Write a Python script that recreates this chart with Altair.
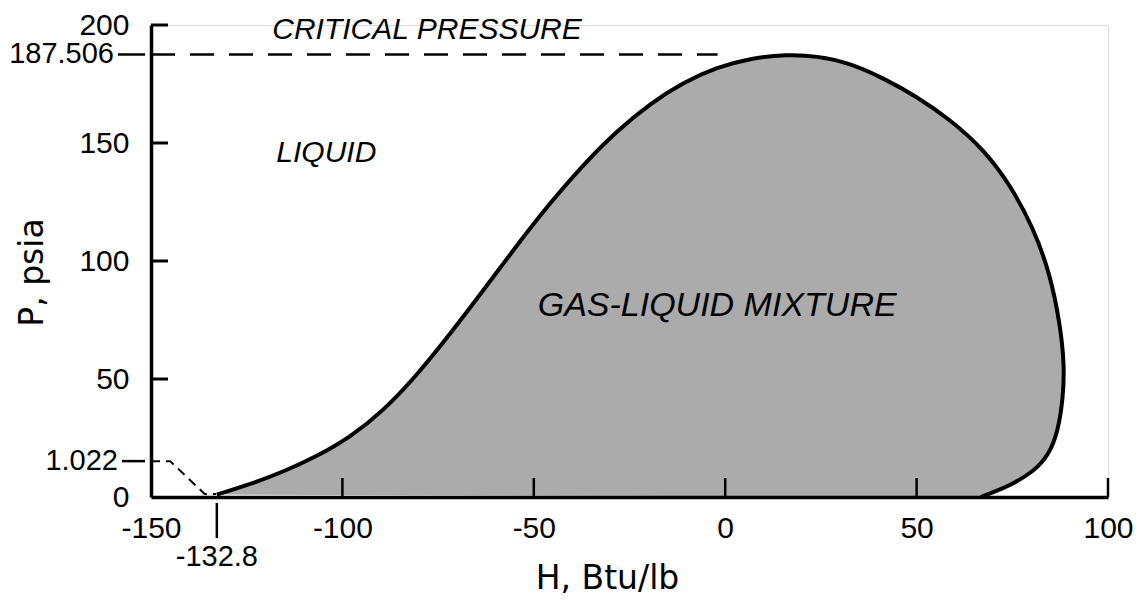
import altair as alt
import pandas as pd

# Phase envelope outline, in path order: left (bubble) branch up to the critical point,
# then right (dew) branch back down to the axis.
H_curve = [-132.8, -124.1, -115.4, -106.7, -98.0, -89.3, -80.6, -71.9, -63.2, -54.5, -45.8,
           -37.1, -28.4, -19.7, -11.0, -2.3, 6.4, 16.1,
           23.9, 32.6, 41.3, 50.0, 58.7, 67.4, 74.4, 80.5, 84.9, 87.5, 88.6, 88.3, 86.9,
           84.6, 80.5, 74.5, 70.0, 66.8]
P_curve = [1.022, 5.4, 10.7, 17.2, 25.3, 36.5, 51.5, 69.0, 87.5, 106.5, 124.5,
           140.8, 155.0, 166.6, 175.6, 182.0, 185.9, 187.506,
           186.9, 183.9, 177.5, 169.7, 160.0, 147.5, 132.4, 114.1, 94.4, 73.1, 56.3, 42.2, 27.5,
           18.0, 10.6, 5.0, 2.0, 0.0]

x_ticks = [-150, -100, -50, 0, 50, 100]
y_ticks = [0, 50, 100, 150, 200]
inner_x_ticks = [-100, -50, 0, 50, 100]
inner_y_ticks = [50, 100, 150, 200]

critical_P = 187.506
critical_H_range = [-150, -2]
triple_H = -132.8
triple_P_label = "1.022"
leader_H = [-150, -145, -136, -133]
leader_P = [15.2, 15.2, 1.3, 1.3]
label_1022_P = 15.2

region_labels = ["CRITICAL PRESSURE", "LIQUID", "GAS-LIQUID MIXTURE"]
region_H = [-77.9, -104.2, -2.1]
region_P = [197.7, 145.7, 80.8]
region_size = [30, 30, 34]

NUMF = "Liberation Sans"

x_enc = alt.X(
    "H:Q",
    scale=alt.Scale(domain=[-150, 100], nice=False, zero=False),
    axis=alt.Axis(
        values=x_ticks, labelExpr="'' + datum.value", ticks=False, tickSize=0, grid=False,
        domainColor="black", domainWidth=3.5, labelFont=NUMF, labelFontSize=30,
        labelColor="black", labelPadding=16, labelFlush=False, labelOverlap=False,
        title="H,  Btu/lb", titleFont="DejaVu Sans", titleFontSize=33, titleFontWeight="normal",
        titleColor="black", titleX=456, titleY=81, titleBaseline="middle", titleAlign="center",
        zindex=1,
    ),
)
y_enc = alt.Y(
    "P:Q",
    scale=alt.Scale(domain=[0, 200], nice=False, zero=False),
    axis=alt.Axis(
        values=y_ticks, ticks=False, tickSize=0, grid=False,
        domainColor="black", domainWidth=3.5, labelFont=NUMF, labelFontSize=30,
        labelColor="black", labelPadding=22, labelFlush=False, labelOverlap=False,
        labelBaseline="middle",
        title="P,  psia", titleFont="DejaVu Sans", titleFontSize=33, titleFontWeight="normal",
        titleColor="black", titleX=-119, titleY=247, titleAngle=270, titleBaseline="middle",
        titleAlign="center", zindex=1,
    ),
)

env_df = pd.DataFrame({"H": H_curve, "P": P_curve, "idx": list(range(len(H_curve)))})
envelope = alt.Chart(env_df).mark_line(
    fill="#ababab", stroke="black", strokeWidth=4, interpolate="basis"
).encode(x=x_enc, y=y_enc, order=alt.Order("idx:Q"))

crit_df = pd.DataFrame({"H": [critical_H_range[0]], "H2": [critical_H_range[1]], "P": [critical_P]})
crit_line = alt.Chart(crit_df).mark_rule(
    color="black", strokeWidth=2.5, strokeDash=[24, 15]
).encode(x=x_enc, x2="H2:Q", y=y_enc)

crit_leader = alt.Chart(crit_df).mark_rule(color="black", strokeWidth=2.5).encode(
    x=alt.value(-33), x2=alt.value(-6), y=y_enc)
crit_label = alt.Chart(pd.DataFrame({"P": [critical_P], "t": ["187.506"]})).mark_text(
    align="right", baseline="middle", font=NUMF, fontSize=29, color="black"
).encode(x=alt.value(-37), y=y_enc, text="t:N")

lead_df = pd.DataFrame({"H": leader_H, "P": leader_P, "idx": list(range(len(leader_H)))})
leader = alt.Chart(lead_df).mark_line(color="black", strokeWidth=2, strokeDash=[9, 6]).encode(
    x=x_enc, y=y_enc, order=alt.Order("idx:Q"))
lab1022_df = pd.DataFrame({"P": [label_1022_P], "t": [triple_P_label]})
leader_out = alt.Chart(lab1022_df).mark_rule(color="black", strokeWidth=2.5).encode(
    x=alt.value(-29), x2=alt.value(-6), y=y_enc)
label_1022 = alt.Chart(lab1022_df).mark_text(
    align="right", baseline="middle", font=NUMF, fontSize=29, color="black"
).encode(x=alt.value(-33), y=y_enc, text="t:N")

tri_df = pd.DataFrame({"H": [triple_H], "t": ["-132.8"]})
tri_tick = alt.Chart(tri_df).mark_rule(color="black", strokeWidth=2.5).encode(
    x=x_enc, y=alt.value(478), y2=alt.value(513))
tri_label = alt.Chart(tri_df).mark_text(
    align="center", baseline="middle", font=NUMF, fontSize=29, color="black"
).encode(x=x_enc, y=alt.value(532), text="t:N")

xt = alt.Chart(pd.DataFrame({"H": inner_x_ticks})).mark_rule(color="black", strokeWidth=2.5).encode(
    x=x_enc, y=alt.value(453), y2=alt.value(472))
yt = alt.Chart(pd.DataFrame({"P": inner_y_ticks})).mark_rule(color="black", strokeWidth=3).encode(
    y=y_enc, x=alt.value(0), x2=alt.value(17))

reg_df = pd.DataFrame({"H": region_H, "P": region_P, "t": region_labels, "s": region_size})
regions = alt.Chart(reg_df).mark_text(
    align="center", baseline="middle", font=NUMF, fontStyle="italic", color="black"
).encode(x=x_enc, y=y_enc, text="t:N",
         size=alt.Size("s:Q", scale=None, legend=None))

chart = alt.layer(
    envelope, crit_line, crit_leader, crit_label, leader, leader_out, label_1022,
    tri_tick, tri_label, xt, yt, regions
).properties(
    width=957, height=472,
    autosize=alt.AutoSizeParams(type="none"),
    padding={"left": 143, "top": 17, "right": 31, "bottom": 100},
).configure_view(stroke=None).configure(background="white")

chart.save("out.html", embed_options={"renderer": "svg", "actions": False})
